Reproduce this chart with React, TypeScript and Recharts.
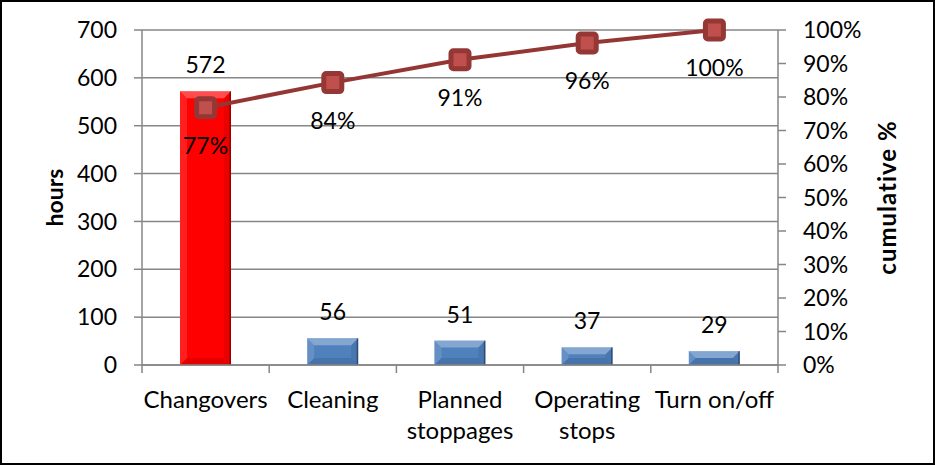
import React from 'react';
import { ComposedChart, Bar, Line, XAxis, YAxis, CartesianGrid, Cell, LabelList } from 'recharts';

const categories = ['Changovers', 'Cleaning', 'Planned\nstoppages', 'Operating\nstops', 'Turn on/off'];
const hours = [572, 56, 51, 37, 29];
const cumulative = [76.8, 84.3, 91.1, 96.1, 100];
const barColors = ['#ff0000', '#4f81bd', '#4f81bd', '#4f81bd', '#4f81bd'];
const hourTicks = [0, 100, 200, 300, 400, 500, 600, 700];
const pctTicks = [0, 10, 20, 30, 40, 50, 60, 70, 80, 90, 100];

const data = categories.map((name, i) => ({ name, hours: hours[i], pct: cumulative[i] }));

const FONT = 'Lato, "Open Sans", sans-serif';
const GRAY = '#868686';

const BevelBar = (props: any) => {
  const { x, y, width, height, fill } = props;
  if (!height || height <= 0) return null;
  const b = Math.min(7, height / 2, width / 2);
  return (
    <g>
      <rect x={x} y={y} width={width} height={height} fill={fill} />
      {/* top bevel */}
      <polygon points={`${x},${y} ${x + width},${y} ${x + width - b},${y + b} ${x + b},${y + b}`} fill="#ffffff" fillOpacity={0.3} />
      {/* left bevel */}
      <polygon points={`${x},${y} ${x + b},${y + b} ${x + b},${y + height - b} ${x},${y + height}`} fill="#ffffff" fillOpacity={0.12} />
      {/* right bevel */}
      <polygon points={`${x + width},${y} ${x + width - b},${y + b} ${x + width - b},${y + height - b} ${x + width},${y + height}`} fill="#000000" fillOpacity={0.08} />
      {/* bottom bevel */}
      <polygon points={`${x},${y + height} ${x + b},${y + height - b} ${x + width - b},${y + height - b} ${x + width},${y + height}`} fill="#000000" fillOpacity={0.1} />
      <line x1={x + width - 0.75} x2={x + width - 0.75} y1={y} y2={y + height} stroke="#000" strokeOpacity={0.35} strokeWidth={1.5} />
    </g>
  );
};

const SquareDot = (props: any) => {
  const { cx, cy, index } = props;
  const s = 18;
  return (
    <rect key={`dot-${index}`} x={cx - s / 2} y={cy - s / 2} width={s} height={s} rx={2.5}
      fill="#c0504d" stroke="#953735" strokeWidth={5} />
  );
};

const CategoryTick = (props: any) => {
  const { x, y, payload, index, width } = props;
  const band = (width || 636) / categories.length;
  const lines = String(payload.value).split('\n');
  const isLast = index === categories.length - 1;
  return (
    <g>
      <line x1={x - band / 2} x2={x - band / 2} y1={y} y2={y + 8} stroke={GRAY} strokeWidth={1.5} />
      {isLast && <line x1={x + band / 2} x2={x + band / 2} y1={y} y2={y + 8} stroke={GRAY} strokeWidth={1.5} />}
      {lines.map((ln, i) => (
        <text key={i} x={x} y={y + 43 + i * 31} textAnchor="middle" fontSize={24} fontFamily={FONT} fill="#000">
          {ln}
        </text>
      ))}
    </g>
  );
};

export default function App() {
  return (
    <div style={{ position: 'fixed', left: 0, top: 0, width: 935, height: 465, background: '#fff' }}>
      <ComposedChart width={935} height={465} data={data} margin={{ top: 30, right: 0, bottom: 0, left: 0 }}>
        <CartesianGrid yAxisId="left" vertical={false} stroke={GRAY} strokeWidth={1.5} />
        <XAxis dataKey="name" tick={<CategoryTick />} tickLine={false} tickSize={0} tickMargin={0}
          axisLine={{ stroke: GRAY, strokeWidth: 1.5 }} height={100} interval={0} />
        <YAxis yAxisId="left" domain={[0, 700]} ticks={hourTicks} interval={0} width={142} tickSize={8} tickMargin={17}
          axisLine={{ stroke: GRAY, strokeWidth: 1.5 }} tickLine={{ stroke: GRAY, strokeWidth: 1.5 }}
          tick={{ fontSize: 23, fontFamily: FONT, fill: '#000' }}
          label={{ value: 'hours', angle: -90, position: 'center', dx: -16, style: { fontSize: 23, fontWeight: 700, fontFamily: FONT, fill: '#000' } }} />
        <YAxis yAxisId="right" orientation="right" domain={[0, 100]} ticks={pctTicks} interval={0} width={157} tickSize={8} tickMargin={17}
          axisLine={{ stroke: GRAY, strokeWidth: 1.5 }} tickLine={{ stroke: GRAY, strokeWidth: 1.5 }}
          tickFormatter={(v: number) => `${v}%`}
          tick={{ fontSize: 23, fontFamily: FONT, fill: '#000', textAnchor: 'start' }}
          label={{ value: 'cumulative %', angle: -90, position: 'center', dx: 31, style: { fontSize: 24, fontWeight: 700, fontFamily: FONT, fill: '#000', letterSpacing: 1 } }} />
        <Bar yAxisId="left" dataKey="hours" barSize={51} shape={<BevelBar />} isAnimationActive={false}>
          {data.map((d, i) => (
            <Cell key={d.name} fill={barColors[i]} />
          ))}
          <LabelList dataKey="hours" position="top" offset={18} style={{ fontSize: 23, fontFamily: FONT, fill: '#000' }} />
        </Bar>
        <Line yAxisId="right" dataKey="pct" stroke="#943634" strokeWidth={4} dot={<SquareDot />} activeDot={false}
          isAnimationActive={false}>
          <LabelList dataKey="pct" position="bottom" offset={30} formatter={(v: any) => `${Math.round(Number(v))}%`}
            style={{ fontSize: 23, fontFamily: FONT, fill: '#000' }} />
        </Line>
      </ComposedChart>
      <div style={{ position: 'absolute', left: 0, top: 0, width: 935, height: 465, border: '2px solid #000', boxSizing: 'border-box', pointerEvents: 'none' }} />
    </div>
  );
}
